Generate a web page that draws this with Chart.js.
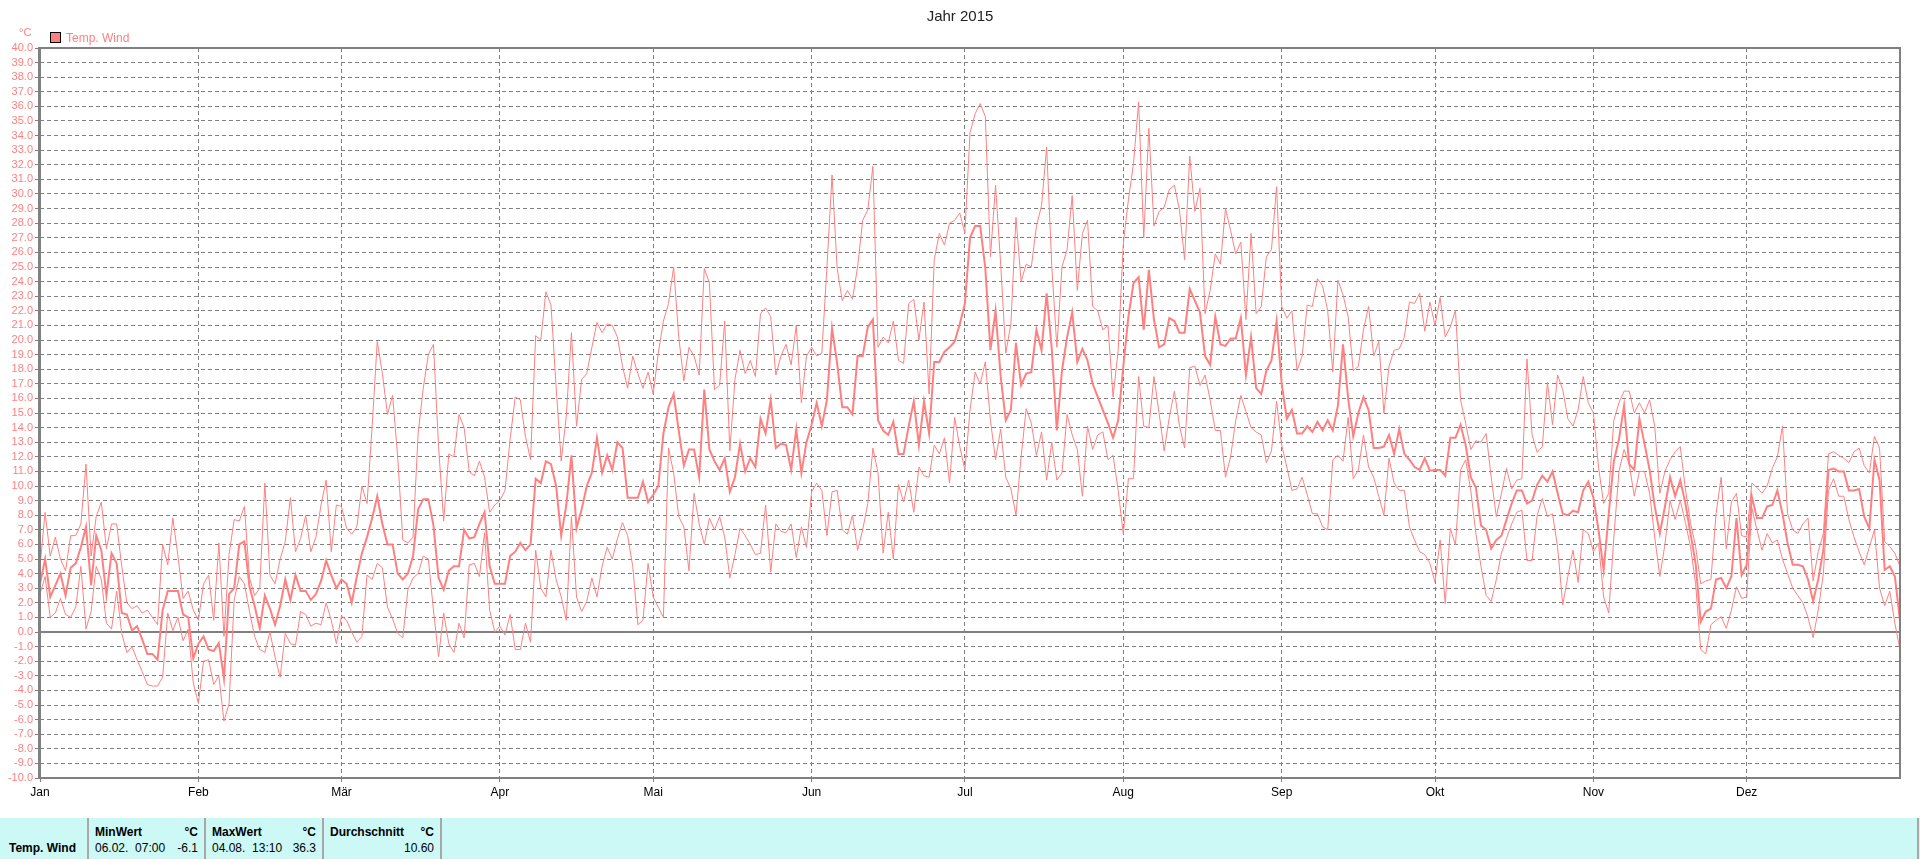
<!DOCTYPE html>
<html>
<head>
<meta charset="utf-8">
<title>Jahr 2015</title>
<script src="https://cdn.jsdelivr.net/npm/chart.js@4.4.1/dist/chart.umd.min.js"></script>
<style>
  html, body { margin: 0; padding: 0; background: #fff; }
  body { width: 1920px; height: 859px; position: relative; overflow: hidden; font-family: "Liberation Sans", Arial, sans-serif; }
  #chartBox { position: absolute; left: 0; top: 0; width: 1920px; height: 818px; }
  #title { position: absolute; top: 7px; left: 0; width: 1920px; text-align: center; font-size: 15px; color: #222; }
  #unit { position: absolute; left: 19px; top: 26px; font-size: 11px; color: #ff8080; }
  #legend { position: absolute; left: 50px; top: 31px; font-size: 12px; color: #ff8080; white-space: nowrap; }
  #legend .box { display: inline-block; width: 9px; height: 9px; border: 1px solid #000; background: #ff8080; vertical-align: -1px; margin-right: 5px; }
  #stats { position: absolute; left: 0; top: 818px; width: 1920px; height: 41px; background: #ccf8f6; font-size: 12px; color: #000; }
  #stats div { position: absolute; white-space: pre; }
  #stats .sep { top: 0; width: 2px; height: 41px; background: #a8a8a8; }
  #stats .b { font-weight: bold; }
  #stats .r { text-align: right; }
</style>
</head>
<body>
<div id="chartBox"><canvas id="TempChart" width="1920" height="818"></canvas></div>
<div id="title">Jahr 2015</div>
<div id="unit">°C</div>
<div id="legend"><span class="box"></span>Temp. Wind</div>
<div id="stats">
  <div class="b" style="left:9px; top:23px;">Temp. Wind</div>
  <div class="sep" style="left:87px;"></div>
  <div class="b" style="left:95px; top:7px;">MinWert</div>
  <div class="b r" style="left:150px; width:48px; top:7px;">°C</div>
  <div style="left:95px; top:23px;">06.02.  07:00</div>
  <div class="r" style="left:150px; width:48px; top:23px;">-6.1</div>
  <div class="sep" style="left:204px;"></div>
  <div class="b" style="left:212px; top:7px;">MaxWert</div>
  <div class="b r" style="left:268px; width:48px; top:7px;">°C</div>
  <div style="left:212px; top:23px;">04.08.  13:10</div>
  <div class="r" style="left:268px; width:48px; top:23px;">36.3</div>
  <div class="sep" style="left:322px;"></div>
  <div class="b" style="left:330px; top:7px;">Durchschnitt</div>
  <div class="b r" style="left:386px; width:48px; top:7px;">°C</div>
  <div class="r" style="left:386px; width:48px; top:23px;">10.60</div>
  <div class="sep" style="left:440px;"></div>
  <div class="sep" style="left:1917px;"></div>
</div>
<script>
const monthLabels = ['Jan', 'Feb', 'Mär', 'Apr', 'Mai', 'Jun', 'Jul', 'Aug', 'Sep', 'Okt', 'Nov', 'Dez'];
const monthStarts = [0, 31, 59, 90, 120, 151, 181, 212, 243, 273, 304, 334];

// daily mean (thick line), one row per month
const tempAvg = [
    3.3, 5.0, 2.4, 3.2, 4.0, 2.5, 4.4, 4.7, 5.8, 7.2, 3.2, 6.6, 5.6, 2.5, 5.4, 4.7, 1.3, 1.2, 0.1, 0.4, -0.5, -1.5, -1.5, -1.9, 1.5, 2.8, 2.8, 2.8, 1.2, 1.0, -1.8,
    -0.8, -0.3, -1.2, -1.3, -0.75, -3.2, 2.6, 3.0, 6.0, 6.2, 3.1, 1.8, 0.25, 2.5, 1.6, 0.5, 1.8, 3.6, 2.2, 3.9, 2.8, 2.8, 2.2, 2.6, 3.5, 4.9, 3.9, 3.0,
    3.6, 3.3, 2.0, 3.8, 5.4, 6.5, 7.8, 9.3, 7.4, 6.0, 6.0, 4.0, 3.6, 4.0, 5.2, 8.4, 9.1, 9.1, 7.3, 3.7, 2.9, 4.2, 4.5, 4.5, 7.0, 6.4, 6.5, 7.4, 8.2, 4.5, 3.3,
    3.3, 3.3, 5.2, 5.5, 6.1, 5.6, 6.0, 10.5, 10.2, 11.7, 11.5, 10.0, 6.6, 8.7, 12.1, 7.1, 8.4, 10.0, 10.9, 13.3, 10.9, 12.1, 11.1, 13.0, 12.6, 9.2, 9.2, 9.2, 10.3, 8.9,
    9.4, 10.0, 13.6, 15.4, 16.3, 13.8, 11.4, 12.5, 12.5, 10.6, 16.6, 12.5, 11.7, 11.1, 11.9, 9.6, 10.6, 12.9, 11.0, 11.9, 11.3, 14.6, 13.6, 15.9, 12.6, 12.9, 12.8, 11.1, 13.9, 10.9, 13.0,
    14.2, 15.7, 14.1, 15.9, 20.8, 18.4, 15.4, 15.4, 14.9, 18.9, 18.9, 20.9, 21.4, 14.5, 13.8, 13.5, 14.4, 12.2, 12.2, 14.1, 15.8, 12.8, 15.8, 13.6, 18.5, 18.5, 19.2, 19.5, 19.9, 21.1,
    22.5, 27.0, 27.8, 27.8, 24.9, 19.3, 22.0, 17.5, 14.5, 15.2, 19.8, 16.9, 17.7, 17.8, 20.7, 19.3, 23.2, 19.4, 13.8, 17.9, 20.2, 21.9, 18.5, 19.4, 18.6, 17.0, 16.1, 15.2, 14.3, 13.3, 14.5,
    18.2, 21.6, 23.9, 24.3, 20.7, 24.8, 21.4, 19.5, 19.7, 21.5, 21.3, 20.5, 20.5, 23.5, 22.7, 21.9, 18.9, 18.3, 21.6, 19.7, 19.6, 20.1, 20.1, 21.5, 17.6, 20.2, 16.7, 16.3, 17.9, 18.6, 21.3,
    17.0, 14.6, 15.2, 13.6, 13.6, 14.1, 13.7, 14.4, 13.8, 14.5, 13.8, 15.5, 19.7, 16.0, 13.4, 15.0, 16.1, 15.2, 12.6, 12.6, 12.7, 13.5, 12.2, 13.9, 12.2, 11.8, 11.3, 11.1, 11.9, 11.05,
    11.1, 11.1, 10.7, 13.3, 13.3, 14.2, 12.8, 10.6, 9.9, 7.3, 7.0, 5.7, 6.3, 6.6, 7.7, 8.8, 9.7, 9.7, 8.8, 9.0, 10.1, 10.7, 10.3, 11.0, 9.5, 8.1, 8.0, 8.3, 8.2, 9.7, 10.3,
    9.2, 7.0, 4.2, 8.1, 11.7, 13.2, 15.5, 11.5, 11.1, 14.6, 12.9, 11.1, 8.6, 6.75, 8.6, 10.6, 9.3, 10.4, 8.8, 6.75, 4.7, 0.7, 1.4, 1.6, 3.6, 3.7, 3.0, 3.8, 7.8, 3.9,
    4.6, 9.3, 7.8, 7.8, 8.6, 8.7, 9.7, 8.1, 6.1, 4.6, 4.6, 4.5, 3.6, 2.1, 3.6, 5.6, 11.1, 11.2, 11.0, 11.0, 9.7, 9.7, 9.8, 7.9, 7.1, 11.8, 10.4, 4.25, 4.5, 3.8, 0.8
];

// daily maximum (upper thin line)
const tempMax = [
    4.5, 8.2, 5.2, 6.5, 5.0, 4.2, 6.6, 6.6, 7.4, 11.5, 5.2, 7.9, 8.9, 5.7, 7.4, 7.4, 4.5, 2.0, 1.6, 1.8, 1.3, 1.5, 1.0, 0.5, 6.0, 4.6, 7.8, 5.2, 2.3, 2.8, 1.5,
    0.8, 3.3, 3.9, 0.8, 6.1, -0.3, 5.3, 7.7, 7.6, 8.6, 3.7, 2.5, 3.0, 10.2, 3.9, 3.3, 5.0, 6.2, 9.2, 5.5, 6.4, 8.0, 5.5, 6.5, 8.7, 10.4, 5.5, 8.7,
    8.6, 7.1, 6.7, 7.2, 10.0, 8.8, 14.1, 19.9, 17.7, 14.9, 16.2, 12.0, 6.3, 6.1, 6.5, 13.6, 16.7, 19.0, 19.7, 12.7, 7.6, 12.2, 12.0, 14.9, 14.0, 11.0, 10.7, 11.7, 10.6, 8.2, 8.7,
    9.0, 9.7, 13.2, 16.1, 15.9, 13.4, 11.8, 20.3, 20.0, 23.3, 22.4, 16.8, 11.7, 14.8, 20.5, 14.1, 17.3, 17.7, 19.5, 21.2, 20.5, 21.1, 21.0, 20.2, 18.2, 16.7, 18.9, 17.7, 16.7, 17.8,
    16.3, 19.1, 21.3, 22.5, 25.0, 20.2, 17.2, 19.5, 18.9, 17.6, 24.9, 23.9, 16.6, 16.9, 21.3, 12.4, 17.3, 19.3, 17.7, 18.6, 17.5, 21.8, 22.2, 21.6, 17.6, 18.9, 19.7, 18.3, 21.0, 15.7, 18.9,
    19.5, 18.9, 19.1, 25.0, 31.3, 24.9, 22.7, 23.4, 22.8, 25.0, 28.2, 28.9, 31.9, 19.5, 20.2, 19.8, 21.3, 18.6, 18.4, 22.5, 22.8, 20.0, 22.6, 16.3, 25.5, 27.3, 26.5, 28.0, 28.2, 28.7,
    27.3, 34.2, 35.5, 36.2, 35.3, 25.7, 30.6, 25.2, 19.1, 21.1, 28.4, 24.0, 25.2, 25.0, 27.8, 29.2, 33.2, 25.1, 19.5, 25.0, 26.2, 29.9, 23.4, 27.3, 28.2, 22.3, 22.0, 20.7, 21.0, 16.1, 19.3,
    26.6, 29.6, 32.1, 36.3, 27.0, 34.5, 27.8, 28.8, 29.1, 30.3, 30.6, 28.9, 25.5, 32.6, 28.8, 30.4, 21.8, 23.4, 25.9, 25.2, 29.0, 27.5, 25.9, 26.7, 21.4, 27.3, 21.8, 22.3, 25.7, 26.2, 30.5,
    22.3, 21.5, 22.0, 17.9, 18.9, 22.4, 22.3, 24.2, 23.7, 22.0, 17.8, 24.1, 23.1, 21.6, 17.9, 18.2, 20.7, 22.3, 18.9, 19.9, 15.0, 18.2, 19.3, 19.4, 20.2, 22.6, 22.5, 23.2, 20.6, 22.6,
    21.0, 22.9, 20.2, 20.9, 22.05, 15.9, 14.3, 12.5, 13.1, 13.0, 13.6, 10.6, 7.9, 9.5, 11.2, 9.8, 10.4, 10.5, 18.7, 13.5, 12.3, 12.7, 17.1, 14.2, 17.6, 16.6, 14.6, 14.1, 15.2, 17.5, 15.7,
    15.0, 11.3, 8.8, 9.5, 14.5, 15.7, 16.5, 16.5, 15.0, 15.7, 15.0, 15.9, 14.1, 9.5, 11.0, 11.8, 12.35, 12.7, 9.8, 7.5, 5.85, 3.3, 3.5, 3.6, 8.1, 10.6, 5.7, 8.9, 9.5, 6.6,
    6.5, 10.2, 9.9, 9.5, 10.0, 11.2, 12.0, 14.1, 8.1, 7.0, 6.75, 7.4, 7.8, 3.5, 5.5, 6.75, 12.2, 12.35, 12.1, 11.9, 11.6, 12.35, 12.6, 11.4, 10.9, 13.4, 12.6, 6.2, 5.85, 5.4, 4.5
];

// daily minimum (lower thin line)
const tempMin = [
    2.6, 3.8, 1.0, 1.3, 2.3, 1.2, 1.0, 1.7, 4.5, 0.2, 1.4, 4.5, 3.6, 0.6, 0.2, 2.8, -0.1, -1.4, -1.0, -1.9, -2.7, -3.6, -3.7, -3.7, -3.1, 1.3, 0.1, 1.0, -0.6, 0.2, -3.5,
    -4.9, -2.0, -1.9, -3.6, -3.0, -6.1, -4.9, 2.2, 3.8, 3.3, 1.4, -0.3, -1.2, -1.4, 0.0, -1.7, -3.1, -0.1, -0.8, -0.9, 1.4, 1.2, 0.4, 0.6, 0.5, 2.0, 0.8, -0.8,
    1.1, 0.8, 0.0, -0.7, -0.3, 3.9, 3.6, 4.7, 4.4, 1.7, 0.9, -0.1, -0.4, 2.9, 3.7, 4.0, 5.2, 5.0, 1.5, -1.7, 1.3, -0.8, -1.4, 0.6, -0.4, 4.6, 4.7, 3.8, 6.8, 1.5, 0.0,
    0.4, -0.2, 1.2, -1.2, -1.2, 0.6, -0.7, 5.6, 3.0, 2.4, 5.6, 3.6, 2.4, 0.8, 7.9, 2.4, 1.4, 2.1, 3.7, 2.4, 4.5, 5.8, 5.0, 6.4, 7.5, 6.6, 4.5, 0.5, 0.8, 4.7,
    2.4, 1.7, 1.0, 12.6, 10.9, 7.9, 7.2, 4.2, 9.5, 7.4, 6.0, 7.8, 7.0, 7.9, 6.5, 3.7, 5.3, 7.1, 6.6, 6.0, 5.3, 5.4, 8.7, 4.1, 7.4, 6.9, 6.8, 7.4, 5.1, 7.2, 5.8,
    9.6, 10.2, 9.7, 6.6, 9.6, 9.7, 7.0, 6.7, 8.0, 5.6, 7.0, 8.8, 12.6, 10.9, 5.4, 8.2, 5.0, 10.1, 8.9, 10.4, 8.2, 11.3, 10.7, 10.6, 12.8, 12.2, 13.3, 10.2, 14.7, 12.7,
    11.1, 15.2, 17.8, 17.0, 18.5, 14.5, 11.8, 13.9, 10.6, 9.8, 8.0, 12.0, 15.3, 14.3, 12.1, 13.7, 10.4, 13.0, 10.4, 10.9, 14.9, 13.5, 12.5, 9.3, 14.1, 12.5, 13.5, 13.7, 11.8, 12.1, 9.7,
    6.7, 10.5, 10.5, 17.5, 14.1, 14.0, 17.5, 15.0, 12.4, 14.7, 16.5, 14.1, 12.6, 18.1, 18.2, 16.9, 17.6, 15.9, 13.8, 13.8, 10.6, 12.0, 14.5, 16.2, 15.1, 14.0, 13.7, 13.5, 11.6, 12.4, 15.8,
    12.8, 11.3, 9.7, 9.8, 10.6, 9.4, 8.1, 8.1, 7.2, 7.0, 11.8, 12.1, 11.7, 14.7, 10.5, 11.1, 13.5, 11.3, 10.6, 9.3, 8.0, 11.9, 10.2, 9.7, 9.7, 7.2, 6.3, 5.5, 5.3, 4.7,
    3.4, 6.3, 1.95, 7.1, 5.95, 11.1, 11.8, 9.7, 6.75, 4.5, 2.5, 2.1, 3.6, 5.4, 6.4, 7.4, 8.2, 8.35, 4.9, 4.9, 8.0, 9.15, 7.9, 8.1, 5.8, 1.85, 3.8, 5.6, 3.4, 7.0, 6.75,
    5.5, 6.1, 2.4, 1.3, 6.5, 11.0, 12.5, 11.5, 9.3, 11.0, 11.0, 9.5, 6.5, 3.8, 6.0, 9.0, 7.7, 9.0, 7.5, 5.85, 3.3, -1.2, -1.5, 0.5, 0.8, 1.05, 0.25, 1.5, 3.1, 2.3,
    2.4, 8.5, 7.0, 5.6, 6.75, 6.1, 6.3, 5.0, 4.0, 3.0, 2.5, 2.0, 1.0, -0.4, 1.5, 4.0, 9.7, 10.5, 9.3, 9.3, 7.7, 6.5, 5.5, 4.6, 5.8, 7.0, 3.0, 1.8, 2.8, 0.6, -1.2
];

const lineColor = '#ff8080';
const gridColor = '#808080';

Chart.defaults.font.family = '"Liberation Sans", Arial, sans-serif';

function ToPoints(values) {
    return values.map(function (v, i) { return { x: i, y: v }; });
}

// zero line and the gray frame round the plot
const framePlugin = {
    id: 'frame',
    beforeDatasetsDraw: function (chart) {
        const ctx = chart.ctx;
        const area = chart.chartArea;
        const y0 = Math.round(chart.scales.y.getPixelForValue(0));
        ctx.save();
        ctx.strokeStyle = gridColor;
        ctx.lineWidth = 2;
        ctx.beginPath();
        ctx.moveTo(area.left, y0);
        ctx.lineTo(area.right, y0);
        ctx.stroke();
        ctx.restore();
    },
    afterDraw: function (chart) {
        const ctx = chart.ctx;
        const a = chart.chartArea;
        ctx.save();
        ctx.strokeStyle = gridColor;
        ctx.lineWidth = 2;
        ctx.strokeRect(Math.round(a.left), Math.round(a.top), Math.round(a.right - a.left), Math.round(a.bottom - a.top));
        ctx.lineWidth = 3;
        ctx.beginPath();
        ctx.moveTo(Math.round(a.left) - 0.5, a.top - 1);
        ctx.lineTo(Math.round(a.left) - 0.5, a.bottom + 1);
        ctx.stroke();
        ctx.restore();
    }
};

window.tempChart = new Chart(document.getElementById('TempChart').getContext('2d'), {
    type: 'line',
    data: {
        datasets: [{
            label: 'Temp. Wind',
            data: ToPoints(tempAvg),
            borderColor: lineColor,
            borderWidth: 2,
            pointRadius: 0,
            tension: 0,
            order: 1
        }, {
            label: 'Temp. Wind max',
            data: ToPoints(tempMax),
            borderColor: lineColor,
            borderWidth: 1,
            pointRadius: 0,
            tension: 0,
            order: 2
        }, {
            label: 'Temp. Wind min',
            data: ToPoints(tempMin),
            borderColor: lineColor,
            borderWidth: 1,
            pointRadius: 0,
            tension: 0,
            order: 3
        }]
    },
    options: {
        responsive: false,
        animation: false,
        layout: { padding: { top: 48, right: 20, left: 0, bottom: 0 } },
        plugins: {
            legend: { display: false },
            tooltip: { enabled: false },
            title: { display: false }
        },
        scales: {
            x: {
                type: 'linear',
                min: 0,
                max: 364,
                afterBuildTicks: function (scale) {
                    scale.ticks = monthStarts.map(function (v) { return { value: v }; });
                },
                afterFit: function (scale) { scale.height = 40; },
                ticks: {
                    autoSkip: false,
                    maxRotation: 0,
                    color: '#000',
                    font: { size: 12 },
                    padding: 3,
                    callback: function (value) { return monthLabels[monthStarts.indexOf(value)]; }
                },
                grid: { color: gridColor, lineWidth: 1, tickLength: 4, tickColor: gridColor, tickBorderDash: [] },
                border: { display: false, dash: [4, 3] }
            },
            y: {
                min: -10,
                max: 40,
                afterFit: function (scale) { scale.width = 40; },
                ticks: {
                    stepSize: 1,
                    autoSkip: false,
                    color: lineColor,
                    font: { size: 11 },
                    padding: 2,
                    callback: function (value) { return value.toFixed(1); }
                },
                grid: { color: gridColor, lineWidth: 1, tickLength: 5, tickColor: gridColor, tickBorderDash: [] },
                border: { display: false, dash: [4, 3] }
            }
        }
    },
    plugins: [framePlugin]
});
</script>
</body>
</html>
